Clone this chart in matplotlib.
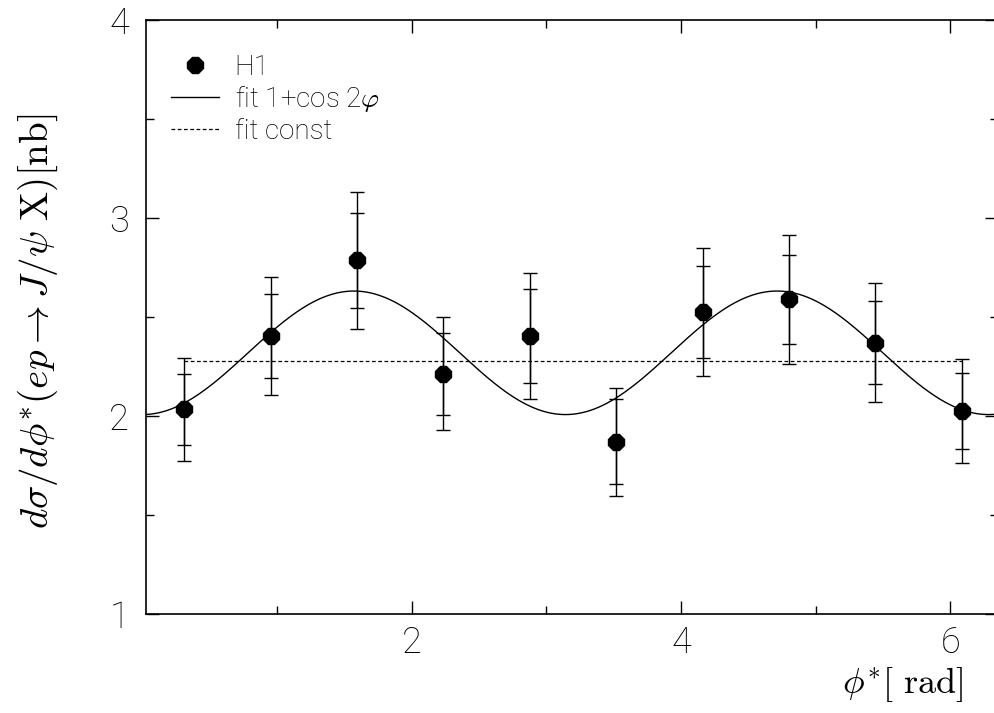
import numpy as np
import matplotlib.pyplot as plt
from matplotlib.ticker import MultipleLocator
from matplotlib.lines import Line2D

# H1 data points (bin centres in phi*, cross section in nb)
phi = [0.312, 0.953, 1.596, 2.235, 2.878, 3.517, 4.160, 4.801, 5.439, 6.083]
xsec = [2.034, 2.404, 2.786, 2.214, 2.404, 1.869, 2.525, 2.589, 2.371, 2.025]
err_stat = [0.18, 0.21, 0.24, 0.207, 0.236, 0.215, 0.23, 0.226, 0.21, 0.19]
err_tot = [0.26, 0.30, 0.345, 0.287, 0.32, 0.274, 0.324, 0.326, 0.30, 0.263]

# fit results
fit_mean = 2.319
fit_amp = 0.312
fit_const = 2.276

X_MIN, X_MAX = 0.025, 6.353
Y_MIN, Y_MAX = 1.0, 4.0

plt.rcParams['mathtext.fontset'] = 'cm'

fig = plt.figure(figsize=(9.94, 7.13), dpi=100)
ax = fig.add_axes([0.1466, 0.1389, 0.8574, 0.8331])

# fit curves
x_fit = np.linspace(X_MIN, X_MAX, 400)
ax.plot(x_fit, fit_mean - fit_amp * np.cos(2 * x_fit), color='black', lw=1.0)
ax.plot([phi[0], phi[-1]], [fit_const, fit_const], color='black', lw=0.9,
        dashes=(3, 2))

# error bars: total and statistical
ax.errorbar(phi, xsec, yerr=err_tot, fmt='none', ecolor='black',
            elinewidth=1.0, capsize=5, capthick=1.0)
ax.errorbar(phi, xsec, yerr=err_stat, fmt='none', ecolor='black',
            elinewidth=1.0, capsize=5, capthick=1.0)
ax.plot(phi, xsec, linestyle='none', marker='8', ms=13, color='black')

ax.set_xlim(X_MIN, X_MAX)
ax.set_ylim(Y_MIN, Y_MAX)

ax.xaxis.set_major_locator(MultipleLocator(2))
ax.xaxis.set_minor_locator(MultipleLocator(1))
ax.yaxis.set_major_locator(MultipleLocator(1))
ax.yaxis.set_minor_locator(MultipleLocator(0.5))
ax.tick_params(which='both', direction='in', top=True, right=True, width=1.0)
ax.tick_params(which='major', length=9.5)
ax.tick_params(which='minor', length=5.5)
ax.tick_params(axis='x', which='major', pad=8)
ax.tick_params(axis='y', which='major', pad=12)
for lab in ax.get_xticklabels() + ax.get_yticklabels():
    lab.set_family('Roboto')
    lab.set_fontweight('light')
    lab.set_fontsize(26)
for sp in ax.spines.values():
    sp.set_linewidth(1.2)

ax.set_ylabel(r'$d\sigma/d\phi^{*}(ep\rightarrow J/\psi\ \mathrm{X})[\mathrm{nb}]$',
              fontsize=28)
ax.yaxis.set_label_coords(-0.10, 0.493)
fig.text(0.969, 0.012, r'$\phi^{*}[\ \mathrm{rad}]$', fontsize=26,
         ha='right', va='bottom')

handles = [
    Line2D([], [], linestyle='none', marker='8', ms=13, color='black'),
    Line2D([], [], color='black', lw=1.0),
    Line2D([], [], color='black', lw=0.9, dashes=(3, 2)),
]
labels = ['H1', r'fit 1+cos 2$\varphi$', 'fit const']
leg = ax.legend(handles, labels, loc='upper left', frameon=False,
                bbox_to_anchor=(0.0, 0.985), handlelength=1.75,
                handletextpad=0.55, labelspacing=0.12,
                prop={'family': 'Roboto', 'weight': 'light', 'size': 20})

fig.savefig('out.png', dpi=100)
